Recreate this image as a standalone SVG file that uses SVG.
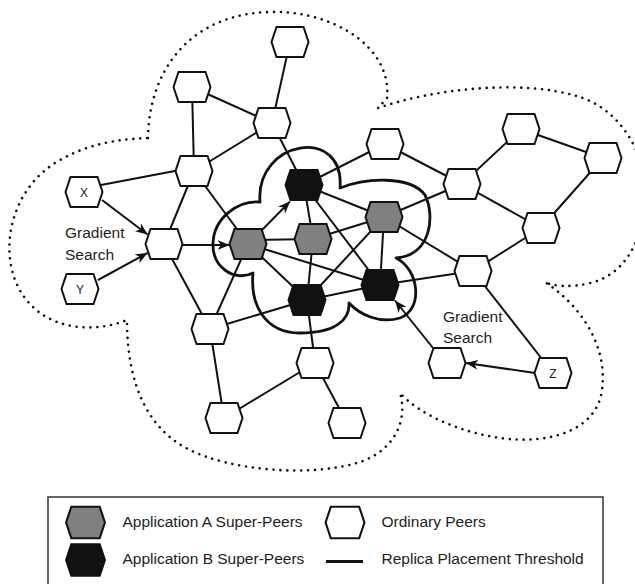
<svg xmlns="http://www.w3.org/2000/svg" width="635" height="584" viewBox="0 0 635 584">
<style>
.edge{stroke:#111;stroke-width:2;fill:none}
.arrow{stroke:#111;stroke-width:2;fill:none;marker-end:url(#ah)}
.cloud{fill:none;stroke:#111;stroke-width:2.6;stroke-linecap:round;stroke-dasharray:0.01 6.9}
.thr{fill:none;stroke:#111;stroke-width:2.8;stroke-linejoin:round}
.ord{fill:#fff;stroke:#111;stroke-width:2}
.appa{fill:#808080;stroke:#111;stroke-width:2}
.appb{fill:#111;stroke:#111;stroke-width:2}
.lbl{font-family:"Liberation Sans",Arial,Helvetica,sans-serif;font-size:15.5px;fill:#222}
.nl{font-family:"Liberation Sans",Arial,Helvetica,sans-serif;font-size:12px;fill:#222;text-anchor:middle}
</style>
<defs>
<polygon id="hex" points="-18.5,0 -13.5,-15 13.5,-15 18.5,0 13.5,15 -13.5,15"/>
<marker id="ah" viewBox="0 0 12 10" refX="12" refY="5" markerWidth="12" markerHeight="10" markerUnits="userSpaceOnUse" orient="auto">
<path d="M0,0 L12,5 L0,10 L3.5,5 Z" fill="#111"/>
</marker>
</defs>
<rect width="635" height="584" fill="#fff"/>
<g id="cloud">
<path class="cloud" d="M148,138 C149,70 190,14 270,12 C330,10 392,45 387,98 L378,108 C430,90 520,78 580,97 C625,112 648,160 645,200 C643,240 625,275 590,283 C570,288 552,286 545,282 C580,305 608,345 602,390 C597,430 550,445 500,438 C460,432 420,415 400,393 C408,420 395,450 360,462 C310,478 230,470 190,450 C145,428 127,380 127,320 C90,335 35,330 15,280 C0,240 15,185 60,160 C90,143 120,139 148,138 Z"/>
</g>
<g id="connectors">
<line class="edge" x1="290" y1="42" x2="272" y2="123"/>
<line class="edge" x1="192" y1="87" x2="272" y2="123"/>
<line class="edge" x1="192" y1="87" x2="194" y2="171"/>
<line class="edge" x1="272" y1="123" x2="194" y2="171"/>
<line class="edge" x1="272" y1="123" x2="304" y2="185"/>
<line class="edge" x1="101" y1="185" x2="180" y2="170"/>
<line class="edge" x1="194" y1="171" x2="164" y2="244"/>
<line class="edge" x1="194" y1="171" x2="248" y2="244"/>
<line class="edge" x1="164" y1="244" x2="210" y2="329"/>
<line class="edge" x1="248" y1="244" x2="210" y2="329"/>
<line class="edge" x1="248" y1="240" x2="313" y2="239"/>
<line class="edge" x1="248" y1="244" x2="307" y2="300"/>
<line class="edge" x1="248" y1="244" x2="380" y2="285"/>
<line class="edge" x1="210" y1="329" x2="307" y2="300"/>
<line class="edge" x1="210" y1="329" x2="224" y2="418"/>
<line class="edge" x1="304" y1="185" x2="313" y2="239"/>
<line class="edge" x1="304" y1="185" x2="384" y2="217"/>
<line class="edge" x1="304" y1="185" x2="380" y2="285"/>
<line class="edge" x1="304" y1="185" x2="385" y2="144"/>
<line class="edge" x1="313" y1="239" x2="384" y2="217"/>
<line class="edge" x1="313" y1="239" x2="307" y2="300"/>
<line class="edge" x1="384" y1="217" x2="307" y2="300"/>
<line class="edge" x1="384" y1="217" x2="380" y2="285"/>
<line class="edge" x1="384" y1="217" x2="462" y2="184"/>
<line class="edge" x1="384" y1="217" x2="473" y2="271"/>
<line class="edge" x1="307" y1="300" x2="380" y2="285"/>
<line class="edge" x1="307" y1="300" x2="315" y2="363"/>
<line class="edge" x1="380" y1="285" x2="473" y2="271"/>
<line class="edge" x1="315" y1="363" x2="224" y2="418"/>
<line class="edge" x1="315" y1="363" x2="347" y2="423"/>
<line class="edge" x1="385" y1="144" x2="462" y2="184"/>
<line class="edge" x1="462" y1="184" x2="521" y2="129"/>
<line class="edge" x1="462" y1="184" x2="541" y2="228"/>
<line class="edge" x1="521" y1="129" x2="603" y2="158"/>
<line class="edge" x1="603" y1="158" x2="541" y2="228"/>
<line class="edge" x1="541" y1="228" x2="473" y2="271"/>
<line class="edge" x1="473" y1="271" x2="553" y2="373"/>
<path class="arrow" d="M102,200 L147.5,234.5"/>
<path class="arrow" d="M98,280 L147.5,253"/>
<path class="arrow" d="M182.5,245 L229.5,245"/>
<path class="arrow" d="M262,230 L290,201.5"/>
<path class="arrow" d="M433,348 L395,300.5"/>
<path class="arrow" d="M535,373 L466,363"/>
</g>
<g id="threshold">
<path class="thr" d="M253,273 C235,282 212,268 213,243 C214,218 238,200 260,202 C255,140 345,125 340,188 C365,178 410,175 425,195 C435,215 432,255 396,258 C420,270 423,310 400,318 C380,324 360,315 349,303 C350,320 335,333 300,333 C265,333 250,305 253,273 Z"/>
</g>
<g id="n1"><use href="#hex" class="ord" x="290" y="42"/></g>
<g id="n2"><use href="#hex" class="ord" x="192" y="87"/></g>
<g id="n3"><use href="#hex" class="ord" x="272" y="123"/></g>
<g id="n4"><use href="#hex" class="ord" x="194" y="171"/></g>
<g id="nx"><use href="#hex" class="ord" x="84" y="192"/><text class="nl" x="84" y="196.5">X</text></g>
<g id="ng"><use href="#hex" class="ord" x="164" y="244"/></g>
<g id="ny"><use href="#hex" class="ord" x="80" y="289"/><text class="nl" x="80" y="293.5">Y</text></g>
<g id="n5"><use href="#hex" class="ord" x="210" y="329"/></g>
<g id="n6"><use href="#hex" class="ord" x="224" y="418"/></g>
<g id="n7"><use href="#hex" class="ord" x="315" y="363"/></g>
<g id="n8"><use href="#hex" class="ord" x="347" y="423"/></g>
<g id="n9"><use href="#hex" class="ord" x="385" y="144"/></g>
<g id="n10"><use href="#hex" class="ord" x="462" y="184"/></g>
<g id="n11"><use href="#hex" class="ord" x="521" y="129"/></g>
<g id="n12"><use href="#hex" class="ord" x="603" y="158"/></g>
<g id="n13"><use href="#hex" class="ord" x="541" y="228"/></g>
<g id="n14"><use href="#hex" class="ord" x="473" y="271"/></g>
<g id="n15"><use href="#hex" class="ord" x="447" y="363"/></g>
<g id="nz"><use href="#hex" class="ord" x="553" y="373"/><text class="nl" x="553" y="377.5">Z</text></g>
<g id="a1"><use href="#hex" class="appa" x="248" y="244"/></g>
<g id="a2"><use href="#hex" class="appa" x="313" y="239"/></g>
<g id="a3"><use href="#hex" class="appa" x="384" y="217"/></g>
<g id="b1"><use href="#hex" class="appb" x="304" y="185"/></g>
<g id="b2"><use href="#hex" class="appb" x="307" y="300"/></g>
<g id="b3"><use href="#hex" class="appb" x="380" y="285"/></g>
<g id="labels">
<text class="lbl" x="65" y="238">Gradient</text>
<text class="lbl" x="65" y="260">Search</text>
<text class="lbl" x="443" y="322">Gradient</text>
<text class="lbl" x="443" y="343">Search</text>
</g>
<g id="legend">
<rect x="48" y="497" width="555" height="100" fill="#fff" stroke="#333" stroke-width="1.5"/>
<use href="#hex" class="appa" transform="translate(85.5,522.5) scale(1.05)"/>
<use href="#hex" class="appb" transform="translate(85.5,560) scale(1.05)"/>
<use href="#hex" class="ord" transform="translate(345,522.5) scale(1.05)"/>
<line x1="326" y1="561.5" x2="363" y2="561.5" stroke="#111" stroke-width="3"/>
<text class="lbl" x="122.5" y="527">Application A Super-Peers</text>
<text class="lbl" x="122.5" y="564">Application B Super-Peers</text>
<text class="lbl" x="381.5" y="527">Ordinary Peers</text>
<text class="lbl" x="381.5" y="564">Replica Placement Threshold</text>
</g>
</svg>
